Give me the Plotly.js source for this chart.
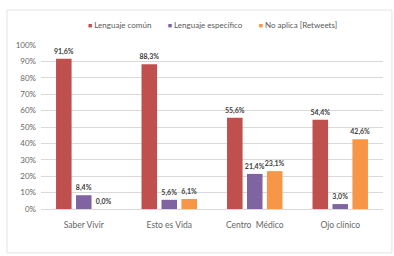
<!DOCTYPE html>
<html>
<head>
<meta charset="utf-8">
<script src="https://cdn.plot.ly/plotly-3.0.1.min.js"></script>
<style>html,body{margin:0;padding:0;background:#fff;}#chart{width:394px;height:256px;}</style>
</head>
<body>
<div id="chart"></div>
<script>
const categories = ["Saber Vivir", "Esto es Vida", "Centro  Médico", "Ojo clínico"];
const seriesNames = ["Lenguaje común", "Lenguaje específico", "No aplica [Retweets]"];
const comun = [91.6, 88.3, 55.6, 54.4];
const especifico = [8.4, 5.6, 21.4, 3.0];
const noAplica = [0.0, 6.1, 23.1, 42.6];
const yTickVals = [0, 10, 20, 30, 40, 50, 60, 70, 80, 90, 100];
const yTickText = ["0%", "10%", "20%", "30%", "40%", "50%", "60%", "70%", "80%", "90%", "100%"];

const colors = ["#C0504D", "#8064A2", "#F79646"];
const fmt = v => v.toFixed(1).replace('.', ',') + '%';
const FONT = "Lato, 'Open Sans', sans-serif";

const allSeries = [comun, especifico, noAplica];
const traces = allSeries.map((vals, i) => ({
  type: 'bar',
  name: seriesNames[i],
  x: categories,
  y: vals,
  text: vals.map(fmt),
  textposition: 'outside',
  constraintext: 'none',
  textfont: {family: FONT, size: 7, color: '#404040', weight: 'bold'},
  cliponaxis: false,
  marker: {color: colors[i]},
  hoverinfo: 'none',
  showlegend: false
}));

const legendText = seriesNames.map((n, i) =>
  '<span style="color:' + colors[i] + ';font-size:7px">■</span> ' + n).join('        ');

const layout = {
  width: 394, height: 256,
  margin: {l: 41, r: 11, t: 45, b: 47},
  paper_bgcolor: '#fff', plot_bgcolor: '#fff',
  font: {family: FONT, size: 8, color: '#595959'},
  barmode: 'group',
  bargap: 0.3,
  bargroupgap: 0.22,
  showlegend: false,
  annotations: [{xref: 'paper', yref: 'paper', x: 0.5, y: 1.122, xanchor: 'center', yanchor: 'middle',
                 showarrow: false, text: legendText,
                 font: {family: FONT, size: 8, color: '#595959'}}],
  xaxis: {showline: true, linecolor: '#D9D9D9', linewidth: 1, ticks: '', showgrid: false,
          ticklabelstandoff: 8,
          tickfont: {family: FONT, size: 8.5, color: '#666666'}, fixedrange: true},
  yaxis: {range: [0, 100], tickvals: yTickVals, ticktext: yTickText, showgrid: true,
          gridcolor: '#D9D9D9', gridwidth: 1, zeroline: false, showline: false, ticks: '',
          ticklabelstandoff: 4, tickfont: {family: FONT, size: 8, color: '#666666'}, fixedrange: true},
  shapes: [{type: 'rect', xref: 'paper', yref: 'paper', x0: -0.0994, x1: 1.026, y0: -0.268, y1: 1.213,
            line: {color: '#E3E3E3', width: 1}, fillcolor: 'rgba(0,0,0,0)', layer: 'below'}]
};

Plotly.newPlot('chart', traces, layout, {displayModeBar: false, staticPlot: true});
</script>
</body>
</html>
